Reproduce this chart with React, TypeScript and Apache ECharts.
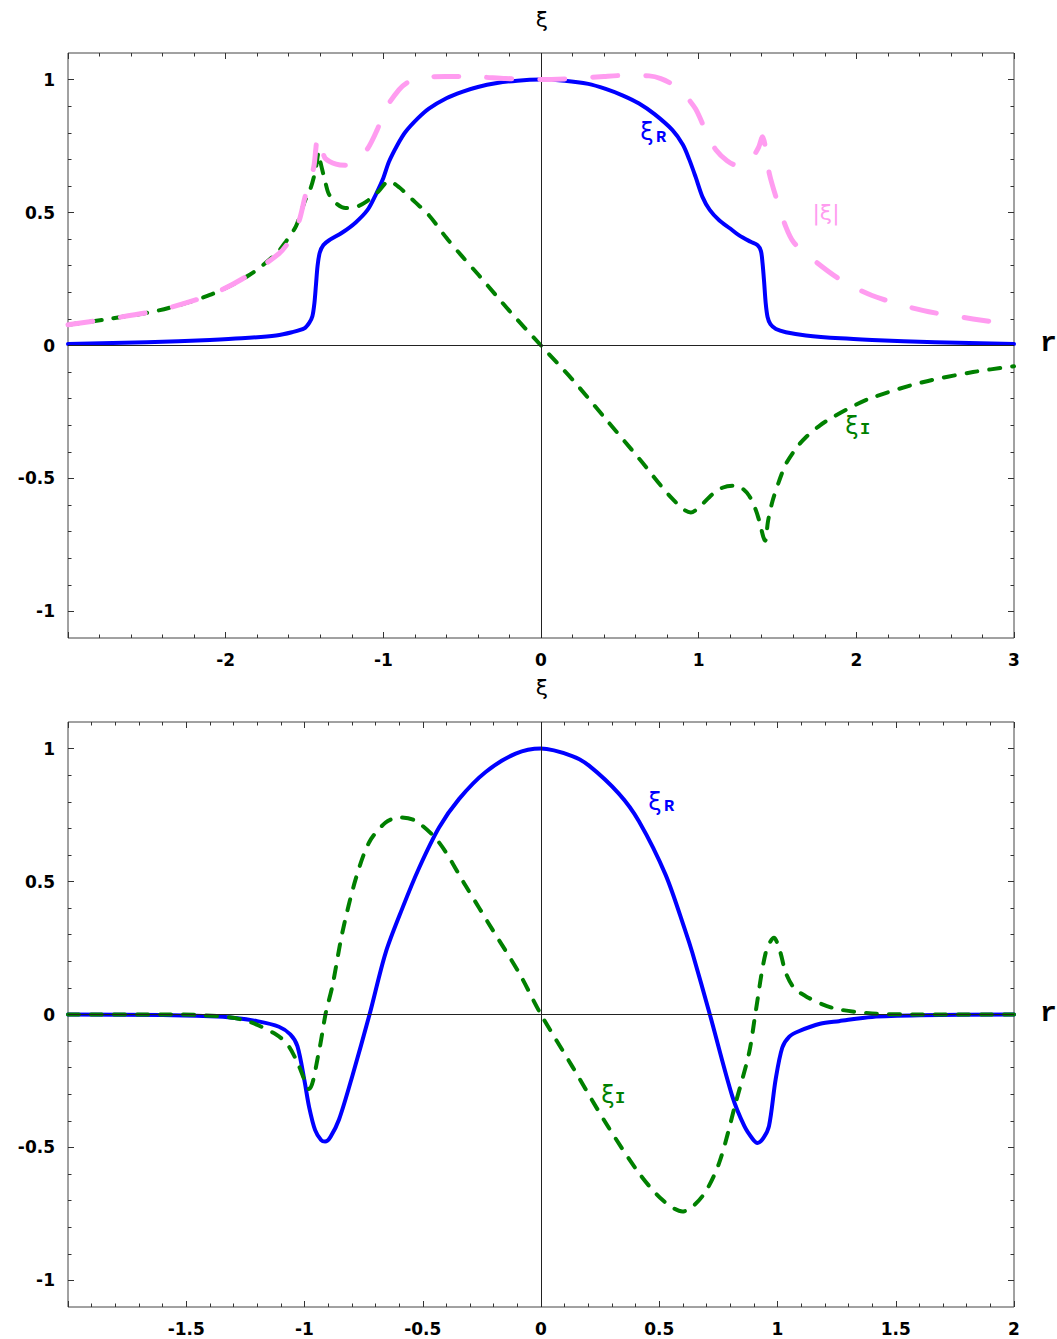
import React, { useEffect, useRef } from "react";
import * as echarts from "echarts";

// ---------- Top panel data (x = r, y = xi) ----------
const topReal: [number, number][] = [
  [-3, 0.006], [-2.5, 0.012], [-2.1, 0.021], [-1.9, 0.027], [-1.68, 0.038], [-1.58, 0.05],
  [-1.5, 0.065], [-1.47, 0.085], [-1.45, 0.11], [-1.437, 0.16], [-1.427, 0.23], [-1.417, 0.3],
  [-1.403, 0.35], [-1.38, 0.378], [-1.346, 0.395], [-1.26, 0.425], [-1.177, 0.462], [-1.1, 0.51],
  [-1.05, 0.565], [-1.0, 0.63], [-0.965, 0.69], [-0.91, 0.755], [-0.86, 0.803], [-0.78, 0.855],
  [-0.711, 0.891], [-0.6, 0.93], [-0.5, 0.954], [-0.4, 0.972], [-0.288, 0.986], [-0.15, 0.996],
  [0, 1], [0.15, 0.996], [0.3, 0.984], [0.41, 0.965], [0.52, 0.94], [0.622, 0.91], [0.72, 0.87],
  [0.834, 0.81], [0.9, 0.755], [0.94, 0.7], [0.98, 0.635], [1.024, 0.559], [1.07, 0.51],
  [1.13, 0.471], [1.2, 0.44], [1.257, 0.414], [1.33, 0.39], [1.374, 0.377], [1.395, 0.355],
  [1.405, 0.31], [1.415, 0.24], [1.425, 0.16], [1.437, 0.107], [1.455, 0.08], [1.49, 0.062],
  [1.553, 0.05], [1.68, 0.038], [1.9, 0.027], [2.1, 0.021], [2.5, 0.012], [3, 0.006],
];

const topImag: [number, number][] = [
  [-3, 0.078], [-2.74, 0.1], [-2.425, 0.132], [-2.1, 0.19], [-1.85, 0.265], [-1.68, 0.345],
  [-1.62, 0.389], [-1.553, 0.45], [-1.5, 0.54], [-1.462, 0.59], [-1.43, 0.66], [-1.41, 0.725],
  [-1.399, 0.69], [-1.37, 0.62], [-1.346, 0.57], [-1.3, 0.535], [-1.24, 0.517], [-1.17, 0.522],
  [-1.11, 0.54], [-1.03, 0.58], [-0.965, 0.618], [-0.9, 0.595], [-0.8, 0.54], [-0.711, 0.49],
  [-0.6, 0.405], [-0.5, 0.335], [-0.394, 0.264], [-0.2, 0.13], [0, 0], [0.199, -0.128],
  [0.41, -0.276], [0.622, -0.425], [0.834, -0.577], [0.95, -0.628], [1.0, -0.61], [1.088, -0.559],
  [1.15, -0.535], [1.215, -0.527], [1.27, -0.535], [1.32, -0.565], [1.36, -0.615], [1.384, -0.659],
  [1.41, -0.72], [1.422, -0.734], [1.44, -0.66], [1.469, -0.584], [1.51, -0.51], [1.553, -0.446],
  [1.62, -0.385], [1.68, -0.345], [1.77, -0.3], [1.85, -0.27], [2.0, -0.222], [2.104, -0.195],
  [2.42, -0.138], [2.74, -0.1], [3, -0.078],
];

const topAbs: [number, number][] = [
  [-3, 0.078], [-2.74, 0.1], [-2.42, 0.133], [-2.1, 0.19], [-1.89, 0.252], [-1.663, 0.345],
  [-1.6, 0.39], [-1.537, 0.464], [-1.494, 0.565], [-1.462, 0.625], [-1.44, 0.675], [-1.428, 0.74],
  [-1.418, 0.785], [-1.405, 0.765], [-1.385, 0.73], [-1.367, 0.703], [-1.3, 0.682], [-1.24, 0.678],
  [-1.17, 0.697], [-1.1, 0.74], [-1.04, 0.81], [-0.986, 0.89], [-0.9, 0.962], [-0.85, 0.988],
  [-0.775, 1.006], [-0.605, 1.012], [-0.4, 1.01], [-0.224, 1.004], [0, 1.0], [0.2, 1.004],
  [0.4, 1.012], [0.55, 1.016], [0.686, 1.014], [0.76, 1.004], [0.834, 0.982], [0.9, 0.95],
  [0.98, 0.89], [1.05, 0.8], [1.11, 0.735], [1.18, 0.695], [1.24, 0.678], [1.3, 0.685],
  [1.343, 0.709], [1.38, 0.745], [1.405, 0.785], [1.425, 0.74], [1.448, 0.647], [1.5, 0.54],
  [1.553, 0.446], [1.6, 0.39], [1.68, 0.345], [1.89, 0.251], [2.1, 0.188], [2.42, 0.132],
  [2.74, 0.1], [3, 0.078],
];

// ---------- Bottom panel data ----------
const bottomReal: [number, number][] = [
  [-2, 0], [-1.6, -0.002], [-1.4, -0.007], [-1.305, -0.012], [-1.2, -0.025], [-1.108, -0.046],
  [-1.06, -0.075], [-1.03, -0.119], [-1.0, -0.25], [-0.98, -0.35], [-0.955, -0.435],
  [-0.93, -0.472], [-0.913, -0.478], [-0.89, -0.46], [-0.854, -0.395], [-0.798, -0.232],
  [-0.725, 0.0], [-0.657, 0.232], [-0.586, 0.4], [-0.516, 0.55], [-0.431, 0.703],
  [-0.347, 0.81], [-0.234, 0.912], [-0.107, 0.981], [0, 1], [0.132, 0.972], [0.203, 0.936],
  [0.33, 0.83], [0.414, 0.727], [0.527, 0.525], [0.612, 0.31], [0.64, 0.232], [0.714, 0.0],
  [0.809, -0.308], [0.86, -0.42], [0.895, -0.468], [0.915, -0.483], [0.94, -0.465],
  [0.964, -0.42], [0.992, -0.245], [1.02, -0.125], [1.05, -0.083], [1.09, -0.063],
  [1.18, -0.035], [1.26, -0.025], [1.4, -0.009], [1.6, -0.003], [2, 0],
];

const bottomImag: [number, number][] = [
  [-2, 0], [-1.6, 0.0], [-1.446, -0.002], [-1.26, -0.02], [-1.12, -0.075], [-1.066, -0.12],
  [-1.023, -0.195], [-0.98, -0.28], [-0.94, -0.144], [-0.91, 0.006], [-0.882, 0.107],
  [-0.84, 0.308], [-0.784, 0.508], [-0.727, 0.647], [-0.657, 0.722], [-0.6, 0.741],
  [-0.53, 0.728], [-0.431, 0.647], [-0.318, 0.483], [-0.206, 0.32], [-0.093, 0.157], [0, 0],
  [0.132, -0.195], [0.274, -0.408], [0.414, -0.596], [0.513, -0.697], [0.598, -0.741],
  [0.682, -0.684], [0.753, -0.559], [0.823, -0.333], [0.88, -0.144], [0.907, 0.006],
  [0.95, 0.232], [0.985, 0.289], [1.01, 0.24], [1.035, 0.157], [1.07, 0.1], [1.119, 0.069],
  [1.19, 0.038], [1.26, 0.019], [1.4, 0.004], [1.6, 0.0], [2, 0],
];

// ---------- Ticks ----------
const topXLabels = [-2, -1, 0, 1, 2, 3];
const bottomXLabels = [-1.5, -1, -0.5, 0, 0.5, 1, 1.5, 2];
const yMajor = [-1, -0.5, 0, 0.5, 1];
const yMinor = [
  -1.0, -0.9, -0.8, -0.7, -0.6, -0.5, -0.4, -0.3, -0.2, -0.1, 0,
  0.1, 0.2, 0.3, 0.4, 0.5, 0.6, 0.7, 0.8, 0.9, 1.0,
];

const BLUE = "#0000ff";
const GREEN = "#008000";
const PINK = "#ff9cf0";
const TICK = "#333";
const LABEL_FONT = "'DejaVu Sans', 'Liberation Sans', sans-serif";
const fmt = (v: number) => String(Math.round(v * 10) / 10);

function makeXAxes(grid: number, min: number, max: number, interval: number, split: number, labels: number[]) {
  const base = {
    gridIndex: grid, type: "value", min, max, interval,
    splitLine: { show: false }, minorSplitLine: { show: false },
    axisLine: { show: false, onZero: false },
    axisTick: { show: true, inside: true, length: 6, lineStyle: { color: TICK, width: 1 } },
    minorTick: { show: true, splitNumber: split, length: 3.5, lineStyle: { color: TICK, width: 1 } },
  };
  return [
    {
      ...base, position: "bottom",
      axisLabel: {
        show: true, customValues: labels, formatter: fmt, margin: 13,
        color: "#000", fontFamily: LABEL_FONT, fontSize: 17, fontWeight: "bold",
      },
    },
    { ...base, position: "top", axisLabel: { show: false } },
  ];
}

function makeYAxes(grid: number) {
  const base = {
    gridIndex: grid, type: "value", min: -1.1, max: 1.1,
    splitLine: { show: false }, axisLine: { show: false, onZero: false },
  };
  const major = { show: true, inside: true, length: 6, customValues: yMajor, lineStyle: { color: TICK, width: 1 } };
  const minor = { show: true, inside: true, length: 3.5, customValues: yMinor, lineStyle: { color: TICK, width: 1 } };
  return [
    {
      ...base, position: "left", axisTick: major,
      axisLabel: {
        show: true, customValues: yMajor, formatter: fmt, margin: 13,
        color: "#000", fontFamily: LABEL_FONT, fontSize: 17, fontWeight: "bold",
      },
    },
    { ...base, position: "left", axisTick: minor, axisLabel: { show: false } },
    { ...base, position: "right", axisTick: major, axisLabel: { show: false } },
    { ...base, position: "right", axisTick: minor, axisLabel: { show: false } },
  ];
}

function originSeries(xi: number, yi: number) {
  return {
    type: "line", xAxisIndex: xi, yAxisIndex: yi, data: [[0, 0]], symbol: "none",
    lineStyle: { opacity: 0 }, z: 1, silent: true,
    markLine: {
      silent: true, symbol: "none", label: { show: false },
      lineStyle: { color: "#222", width: 1, type: "solid" },
      data: [{ xAxis: 0 }, { yAxis: 0 }],
    },
  };
}

function curve(data: [number, number][], xi: number, yi: number, color: string, width: number, dash: any, z: number) {
  return {
    type: "line", xAxisIndex: xi, yAxisIndex: yi, data, symbol: "none", showSymbol: false,
    smooth: 0.3, z, silent: true,
    lineStyle: { color, width, type: dash, cap: "round", join: "round" },
  };
}

function sym(text: string, x: number, y: number, color: string, size: number, family: string, weight = "normal", align = "center") {
  return {
    type: "text", x, y, silent: true, z: 50,
    style: {
      text, fill: color, fontSize: size, fontFamily: family, fontWeight: weight,
      align, verticalAlign: "middle", textAlign: align, textVerticalAlign: "middle",
    },
  };
}

const XI_FONT = "'DejaVu Sans', sans-serif";
const SUB_FONT = "'Liberation Mono', 'DejaVu Sans Mono', monospace";

export default function App() {
  const ref = useRef<HTMLDivElement>(null);
  useEffect(() => {
    document.body.style.margin = "0";
    if (!ref.current) return;
    const chart = echarts.init(ref.current, null, { renderer: "svg" });
    const option: any = {
      animation: false,
      backgroundColor: "#fff",
      grid: [
        { left: 68, top: 53, width: 946, height: 585, show: true, borderColor: "#444", borderWidth: 1, backgroundColor: "transparent" },
        { left: 68, top: 722, width: 946, height: 585, show: true, borderColor: "#444", borderWidth: 1, backgroundColor: "transparent" },
      ],
      xAxis: [
        ...makeXAxes(0, -3, 3, 1, 5, topXLabels),
        ...makeXAxes(1, -2, 2, 0.5, 5, bottomXLabels),
      ],
      yAxis: [...makeYAxes(0), ...makeYAxes(1)],
      series: [
        originSeries(0, 0),
        curve(topReal, 0, 0, BLUE, 4, "solid", 3),
        curve(topImag, 0, 0, GREEN, 4, [11, 12], 4),
        curve(topAbs, 0, 0, PINK, 5, [25, 28], 5),
        originSeries(2, 4),
        curve(bottomReal, 2, 4, BLUE, 4, "solid", 3),
        curve(bottomImag, 2, 4, GREEN, 4, [11, 12], 4),
      ],
      graphic: [
        sym("ξ", 542, 19, "#000", 22, XI_FONT),
        sym("ξ", 542, 687, "#000", 22, XI_FONT),
        sym("r", 1040, 343, "#000", 28, SUB_FONT, "bold", "left"),
        sym("r", 1040, 1013, "#000", 28, SUB_FONT, "bold", "left"),
        // top labels
        sym("ξ", 647, 132, BLUE, 24, XI_FONT),
        sym("R", 661, 137, BLUE, 17, SUB_FONT, "bold"),
        sym("|ξ|", 826, 212, PINK, 22, XI_FONT),
        sym("ξ", 852, 426, GREEN, 24, XI_FONT),
        sym("I", 865, 429, GREEN, 17, SUB_FONT, "bold"),
        // bottom labels
        sym("ξ", 655, 802, BLUE, 24, XI_FONT),
        sym("R", 669, 806, BLUE, 17, SUB_FONT, "bold"),
        sym("ξ", 608, 1095, GREEN, 24, XI_FONT),
        sym("I", 620, 1098, GREEN, 17, SUB_FONT, "bold"),
      ],
    };
    chart.setOption(option);
    return () => chart.dispose();
  }, []);
  return <div ref={ref} style={{ width: 1057, height: 1339 }} />;
}
